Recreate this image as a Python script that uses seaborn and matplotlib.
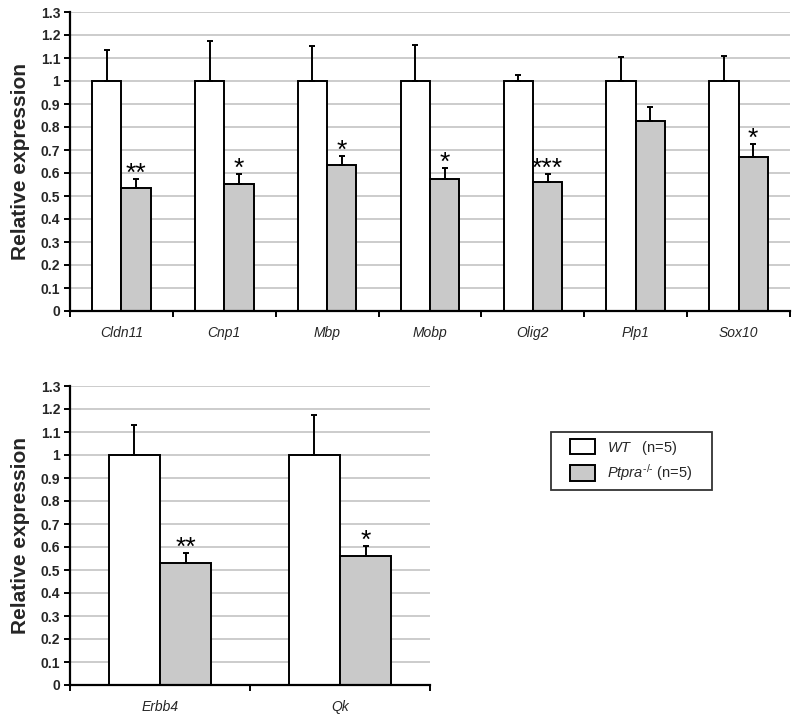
import numpy as np
import pandas as pd
import matplotlib
matplotlib.use("Agg")
import matplotlib.pyplot as plt
from matplotlib.patches import Patch, Rectangle
from matplotlib.legend_handler import HandlerPatch
from matplotlib.ticker import FixedLocator, NullFormatter, FixedFormatter
import seaborn as sns

# ---- data ----
genes_top = ["Cldn11", "Cnp1", "Mbp", "Mobp", "Olig2", "Plp1", "Sox10"]
wt_top = [1.0, 1.0, 1.0, 1.0, 1.0, 1.0, 1.0]
ko_top = [0.535, 0.553, 0.633, 0.574, 0.561, 0.824, 0.668]
wt_err_top = [0.133, 0.175, 0.153, 0.158, 0.027, 0.104, 0.107]
ko_err_top = [0.039, 0.043, 0.042, 0.046, 0.036, 0.064, 0.057]
stars_top = ["**", "*", "*", "*", "***", "", "*"]

genes_bot = ["Erbb4", "Qk"]
wt_bot = [1.0, 1.0]
ko_bot = [0.532, 0.559]
wt_err_bot = [0.131, 0.173]
ko_err_bot = [0.040, 0.044]
stars_bot = ["**", "*"]

groups = ["WT", "Ptpra-/-"]
yticks = [round(0.1 * i, 1) for i in range(14)]

GRAY = "#c9c9c9"

sns.set_style("white")
plt.rcParams["font.family"] = ["Liberation Sans", "DejaVu Sans"]
plt.rcParams["mathtext.fontset"] = "custom"
plt.rcParams["mathtext.it"] = "Liberation Sans:italic"
plt.rcParams["mathtext.rm"] = "Liberation Sans"

fig = plt.figure(figsize=(8.0, 7.23), dpi=100)
ax_top = fig.add_axes([70 / 800, 1 - 311 / 723, 720 / 800, 299 / 723])
ax_bot = fig.add_axes([70 / 800, 1 - 685 / 723, 360 / 800, 299 / 723])


def panel(ax, genes, wt, ko, wt_err, ko_err, stars):
    n = len(genes)
    df = pd.DataFrame({
        "gene": genes + genes,
        "group": [groups[0]] * n + [groups[1]] * n,
        "value": wt + ko,
    })
    sns.barplot(data=df, x="gene", y="value", hue="group",
                palette={groups[0]: "white", groups[1]: GRAY},
                edgecolor="black", linewidth=1.4, width=0.57, gap=0,
                errorbar=None, legend=False, ax=ax, zorder=2)
    errs = wt_err + ko_err
    labels = [""] * n + stars
    bars = ax.patches[:2 * n]
    xs = [b.get_x() + b.get_width() / 2 for b in bars]
    hs = [b.get_height() for b in bars]
    ax.errorbar(xs, hs, yerr=[np.zeros(len(errs)), errs], fmt="none",
                ecolor="black", elinewidth=1.4, capsize=2.3, capthick=1.4,
                zorder=3)
    for x, h, e, s in zip(xs, hs, errs, labels):
        if s:
            ax.text(x, h + e - 0.008, s, ha="center", va="baseline",
                    fontsize=19, color="black")

    ax.set_ylim(0, 1.3)
    ax.set_xlim(-0.5, n - 0.5)
    ax.set_yticks(yticks)
    ax.set_yticklabels(["%g" % t for t in yticks], fontsize=10,
                       fontweight="bold")
    ax.xaxis.set_major_locator(FixedLocator(np.arange(-0.5, n, 1.0)))
    ax.xaxis.set_major_formatter(NullFormatter())
    ax.xaxis.set_minor_locator(FixedLocator(np.arange(n)))
    ax.xaxis.set_minor_formatter(FixedFormatter(genes))
    ax.tick_params(axis="x", which="major", direction="out", length=4,
                   width=1.4, color="black", bottom=True)
    ax.tick_params(axis="x", which="minor", length=0, pad=11,
                   labelsize=10)
    for lab in ax.get_xticklabels(minor=True):
        lab.set_fontstyle("italic")
    ax.tick_params(axis="y", direction="out", length=4, width=1.4,
                   color="black", left=True, pad=3)
    ax.set_xlabel("")
    ax.set_ylabel("Relative expression", fontsize=15, fontweight="bold",
                  labelpad=8)
    ax.yaxis.grid(True, color="#c4c4c4", linewidth=1.2)
    ax.xaxis.grid(False)
    ax.set_axisbelow(True)
    for side in ["top", "right"]:
        ax.spines[side].set_visible(False)
    for side in ["left", "bottom"]:
        ax.spines[side].set_color("black")
        ax.spines[side].set_linewidth(1.6)


panel(ax_top, genes_top, wt_top, ko_top, wt_err_top, ko_err_top, stars_top)
panel(ax_bot, genes_bot, wt_bot, ko_bot, wt_err_bot, ko_err_bot, stars_bot)


def offset_patch(legend, orig_handle, xdescent, ydescent, width, height,
                 fontsize):
    pw = 18.0
    return Rectangle((-xdescent + width - pw, -ydescent), pw, height)


handles = [Patch(facecolor="white", edgecolor="black", linewidth=1.4),
           Patch(facecolor=GRAY, edgecolor="black", linewidth=1.4)]
leg_labels = [r"$\mathit{WT}$   (n=5)", r"$\mathit{Ptpra}^{\text{-/-}}$ (n=5)"]
leg = fig.legend(handles, leg_labels, loc="upper left",
                 bbox_to_anchor=(551 / 800, 1 - 489 / 723, 161 / 800,
                                 57 / 723),
                 mode="expand", frameon=True, fancybox=False, fontsize=10.5,
                 handlelength=2.55, handleheight=1.25, borderpad=0.45,
                 labelspacing=0.4, handletextpad=0.85, borderaxespad=0,
                 handler_map={Patch: HandlerPatch(patch_func=offset_patch)})
leg.get_frame().set_edgecolor("black")
leg.get_frame().set_linewidth(1.3)

fig.savefig("out.png", dpi=100)
